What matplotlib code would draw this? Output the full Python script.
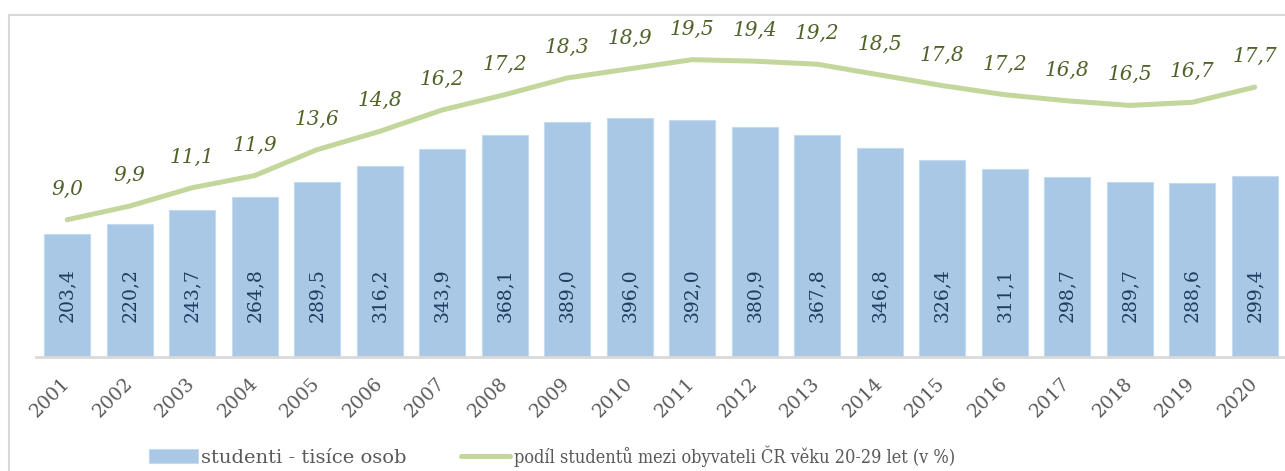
import numpy as np
import matplotlib.pyplot as plt
from matplotlib.patches import Rectangle
from matplotlib.font_manager import FontProperties, findfont

# data
years = ['2001', '2002', '2003', '2004', '2005', '2006', '2007', '2008', '2009', '2010',
         '2011', '2012', '2013', '2014', '2015', '2016', '2017', '2018', '2019', '2020']
students = [203.4, 220.2, 243.7, 264.8, 289.5, 316.2, 343.9, 368.1, 389.0, 396.0,
            392.0, 380.9, 367.8, 346.8, 326.4, 311.1, 298.7, 289.7, 288.6, 299.4]
share = [9.0, 9.9, 11.1, 11.9, 13.6, 14.8, 16.2, 17.2, 18.3, 18.9,
         19.5, 19.4, 19.2, 18.5, 17.8, 17.2, 16.8, 16.5, 16.7, 17.7]

bar_color = '#a8c8e6'
line_color = '#c3d69b'
label_dark = '#1f3b5f'
label_green = '#4f6228'
gray = '#595959'

plt.rcParams['font.family'] = ['DejaVu Serif']

fig = plt.figure(figsize=(12.85, 4.71), dpi=100)
fig.patch.set_facecolor('white')

# outer frame (runs off the right and bottom edge)
fig.patches.append(Rectangle((9 / 1285, -0.1), 1.2, 1 - 15 / 471 + 0.1,
                             transform=fig.transFigure, fill=False,
                             edgecolor='#d9d9d9', linewidth=1.5))

ax = fig.add_axes([36 / 1285, 1 - 357 / 471, 1250 / 1285, 337 / 471])
x = np.arange(len(years))

ax.bar(x, students, width=0.74, color=bar_color, edgecolor='#c4daef', linewidth=0.8,
       label='studenti - tisíce osob', zorder=2)
ax.set_ylim(0, 558)
ax.set_xlim(-0.5, len(years) - 0.5)

for xi, v in zip(x, students):
    ax.text(xi, 103, f'{v:.1f}'.replace('.', ','), rotation=90, ha='center', va='center',
            fontsize=13.5, color=label_dark, zorder=3)

ax2 = ax.twinx()
ax2.plot(x, share, color=line_color, linewidth=3.6, solid_capstyle='round',
         label='podíl studentů mezi obyvateli ČR věku 20-29 let (v %)')
ax2.set_ylim(0, 22.1)
for xi, v in zip(x, share):
    ax2.annotate(f'{v:.1f}'.replace('.', ','), (xi, v), xytext=(0, 22),
                 textcoords='offset points', ha='center', va='center',
                 fontsize=14.5, style='italic', color=label_green)

for a in (ax, ax2):
    for s in ['top', 'right', 'left']:
        a.spines[s].set_visible(False)
    a.set_yticks([])
ax.spines['bottom'].set_color('#d9d9d9')
ax.spines['bottom'].set_linewidth(2)
ax2.spines['bottom'].set_visible(False)

ax.set_xticks(x)
ax.set_xticklabels(years, rotation=45, ha='right', va='center', rotation_mode='anchor',
                   fontsize=13.5, color=gray)
ax.tick_params(axis='x', length=0, pad=17)

h1, l1 = ax.get_legend_handles_labels()
h2, l2 = ax2.get_legend_handles_labels()
leg = fig.legend(h1 + h2, l1 + l2, loc='center', bbox_to_anchor=(552 / 1285, 1 - 456 / 471),
                 ncol=2, frameon=False, fontsize=14, labelcolor=gray,
                 handlelength=2.5, handletextpad=0.2, columnspacing=2.8)

# second legend entry is squeezed in the original -> use a narrow serif
t2 = leg.get_texts()[1]
cond = FontProperties(family='DejaVu Serif', stretch='condensed')
if 'Condensed' in findfont(cond):
    t2.set_fontproperties(FontProperties(family='DejaVu Serif', stretch='condensed', size=13))
else:
    t2.set_fontfamily('Liberation Serif')
    t2.set_fontsize(13)

fig.savefig('out.png', dpi=100, facecolor=fig.get_facecolor())
